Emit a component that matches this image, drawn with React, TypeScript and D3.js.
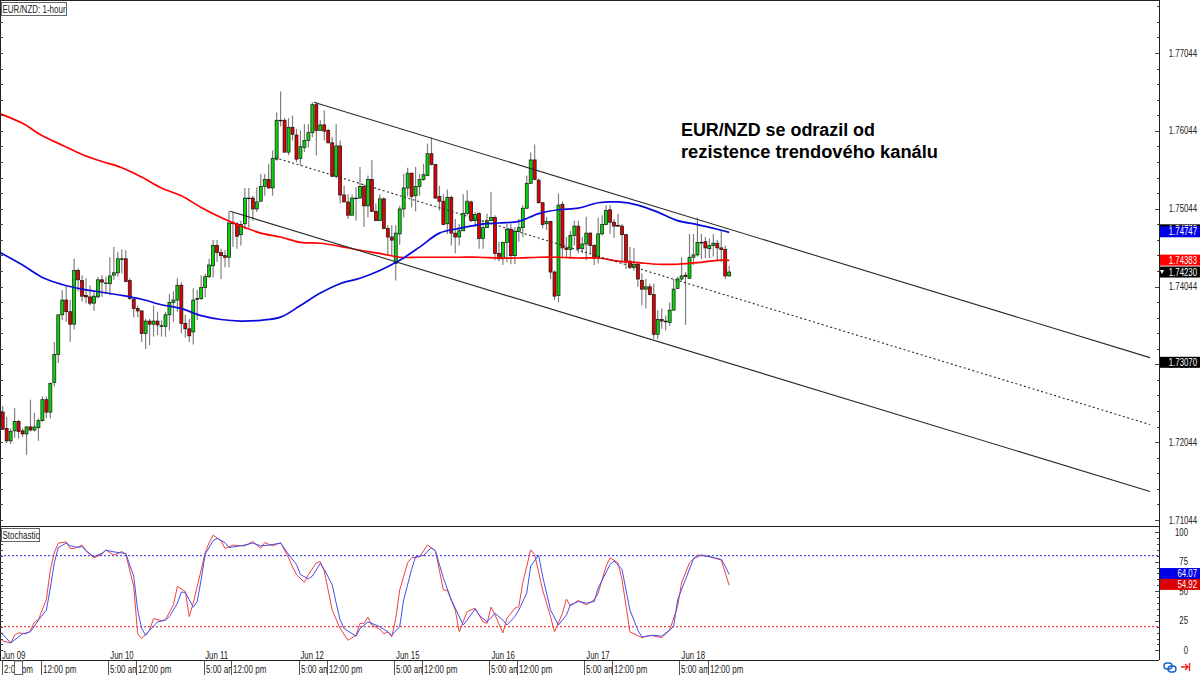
import React, { useEffect, useRef } from "react";
import * as d3 from "d3";

const WIDTH = 1200;
const HEIGHT = 675;

// hourly candles, prices in 1/10000 (17243 = 1.7243)
const opens = [
  17243, 17222, 17206, 17219, 17231, 17219, 17215, 17224, 17220, 17223,
  17232, 17259, 17243, 17281, 17317, 17368, 17387, 17372, 17356, 17425,
  17412, 17393, 17391, 17383, 17391, 17413, 17409, 17408, 17419, 17422,
  17440, 17440, 17412, 17388, 17376, 17373, 17344, 17360, 17356, 17360,
  17354, 17353, 17368, 17384, 17387, 17406, 17357, 17350, 17346, 17388,
  17389, 17403, 17417, 17431, 17457, 17448, 17444, 17442, 17487, 17485,
  17471, 17485, 17518, 17518, 17504, 17514, 17533, 17542, 17531, 17568,
  17618, 17618, 17577, 17609, 17599, 17569, 17583, 17592, 17602, 17638,
  17605, 17612, 17605, 17589, 17546, 17585, 17522, 17513, 17496, 17518,
  17518, 17533, 17508, 17542, 17501, 17489, 17517, 17479, 17468, 17434,
  17472, 17504, 17531, 17550, 17521, 17533, 17542, 17547, 17575, 17561,
  17520, 17514, 17485, 17519, 17473, 17468, 17476, 17498, 17513, 17489,
  17498, 17466, 17480, 17489, 17493, 17447, 17440, 17461, 17478, 17444,
  17475, 17480, 17505, 17537, 17567, 17541, 17512, 17485, 17488, 17423,
  17393, 17510, 17454, 17452, 17470, 17482, 17453, 17459, 17473, 17457,
  17441, 17472, 17484, 17503, 17487, 17483, 17482, 17471, 17437, 17429,
  17433, 17412, 17401, 17404, 17394, 17343, 17362, 17360, 17358, 17374,
  17402, 17414, 17419, 17415, 17442, 17445, 17461, 17462, 17453, 17457,
  17460, 17454, 17452, 17418,
];
const highs = [
  17251, 17237, 17222, 17248, 17233, 17222, 17225, 17259, 17242, 17235,
  17263, 17263, 17281, 17333, 17368, 17400, 17405, 17387, 17440, 17428,
  17419, 17415, 17406, 17400, 17417, 17419, 17417, 17442, 17455, 17449,
  17452, 17451, 17415, 17391, 17380, 17374, 17363, 17363, 17380, 17372,
  17361, 17372, 17395, 17398, 17415, 17410, 17368, 17363, 17402, 17400,
  17419, 17421, 17440, 17464, 17464, 17453, 17451, 17502, 17500, 17487,
  17489, 17531, 17531, 17521, 17532, 17549, 17549, 17562, 17579, 17628,
  17655, 17621, 17621, 17624, 17607, 17605, 17613, 17613, 17641, 17641,
  17618, 17631, 17607, 17596, 17613, 17592, 17534, 17523, 17523, 17532,
  17558, 17536, 17547, 17567, 17511, 17523, 17519, 17483, 17483, 17483,
  17508, 17549, 17557, 17551, 17558, 17549, 17562, 17588, 17596, 17562,
  17534, 17523, 17529, 17521, 17491, 17485, 17523, 17528, 17515, 17500,
  17500, 17489, 17498, 17526, 17496, 17462, 17462, 17485, 17485, 17481,
  17491, 17509, 17547, 17577, 17587, 17543, 17513, 17494, 17489, 17425,
  17524, 17514, 17468, 17476, 17489, 17489, 17468, 17494, 17474, 17459,
  17493, 17496, 17509, 17509, 17491, 17498, 17485, 17472, 17455, 17454,
  17436, 17421, 17414, 17408, 17408, 17374, 17376, 17367, 17384, 17414,
  17417, 17442, 17423, 17472, 17472, 17493, 17472, 17468, 17466, 17472,
  17464, 17477, 17457, 17431,
];
const lows = [
  17220, 17203, 17202, 17210, 17209, 17211, 17188, 17218, 17218, 17206,
  17231, 17235, 17235, 17276, 17306, 17361, 17359, 17333, 17349, 17398,
  17385, 17383, 17380, 17373, 17389, 17391, 17395, 17393, 17413, 17417,
  17421, 17410, 17387, 17365, 17365, 17333, 17324, 17329, 17340, 17342,
  17340, 17340, 17348, 17359, 17372, 17344, 17339, 17333, 17330, 17361,
  17387, 17391, 17415, 17416, 17436, 17414, 17429, 17429, 17455, 17453,
  17457, 17478, 17480, 17489, 17500, 17513, 17521, 17530, 17521, 17566,
  17610, 17577, 17573, 17592, 17564, 17560, 17577, 17583, 17596, 17573,
  17605, 17592, 17588, 17545, 17543, 17511, 17513, 17491, 17496, 17489,
  17517, 17481, 17493, 17500, 17489, 17489, 17478, 17444, 17444, 17412,
  17458, 17493, 17520, 17506, 17501, 17521, 17540, 17546, 17560, 17517,
  17502, 17483, 17472, 17457, 17447, 17457, 17476, 17496, 17487, 17481,
  17453, 17453, 17480, 17490, 17438, 17437, 17432, 17436, 17433, 17433,
  17462, 17468, 17504, 17536, 17541, 17511, 17479, 17477, 17414, 17387,
  17384, 17442, 17442, 17440, 17457, 17447, 17447, 17438, 17447, 17432,
  17434, 17470, 17483, 17472, 17467, 17481, 17434, 17427, 17427, 17425,
  17404, 17380, 17376, 17393, 17337, 17337, 17350, 17348, 17354, 17374,
  17402, 17412, 17355, 17414, 17432, 17443, 17440, 17441, 17441, 17443,
  17437, 17436, 17414, 17417,
];
const closes = [
  17221, 17206, 17218, 17231, 17218, 17215, 17224, 17220, 17224, 17232,
  17259, 17243, 17280, 17317, 17368, 17387, 17372, 17356, 17425, 17413,
  17392, 17391, 17383, 17392, 17413, 17410, 17409, 17418, 17422, 17440,
  17440, 17411, 17389, 17376, 17373, 17344, 17360, 17356, 17360, 17355,
  17354, 17368, 17384, 17387, 17406, 17357, 17350, 17341, 17387, 17389,
  17403, 17417, 17432, 17457, 17448, 17444, 17442, 17486, 17485, 17469,
  17484, 17518, 17518, 17504, 17513, 17533, 17542, 17531, 17569, 17618,
  17618, 17577, 17609, 17600, 17568, 17584, 17592, 17602, 17638, 17605,
  17612, 17604, 17589, 17546, 17585, 17522, 17513, 17496, 17518, 17518,
  17533, 17508, 17542, 17501, 17489, 17517, 17479, 17468, 17464, 17473,
  17504, 17531, 17550, 17520, 17533, 17542, 17548, 17575, 17561, 17518,
  17514, 17484, 17519, 17473, 17468, 17476, 17498, 17514, 17489, 17497,
  17466, 17480, 17489, 17493, 17447, 17440, 17461, 17478, 17444, 17475,
  17480, 17505, 17537, 17567, 17542, 17512, 17484, 17488, 17423, 17392,
  17509, 17454, 17452, 17470, 17482, 17453, 17459, 17473, 17457, 17441,
  17472, 17484, 17502, 17487, 17482, 17482, 17471, 17436, 17429, 17433,
  17414, 17401, 17404, 17394, 17343, 17362, 17360, 17359, 17374, 17401,
  17414, 17418, 17417, 17442, 17445, 17461, 17461, 17454, 17457, 17460,
  17454, 17452, 17418, 17423,
];

// moving averages, read every 5 bars
const maBars = [
  -1, 5, 10, 15, 20, 25, 30, 35, 40, 45, 50, 55, 60, 65, 70, 75, 80, 85, 90,
  95, 100, 105, 110, 115, 120, 125, 130, 135, 140, 145, 150, 155, 160, 165,
  170, 175, 180, 183,
];
const redMa = [
  17627, 17614, 17598, 17586, 17574, 17565, 17557, 17545, 17531, 17521,
  17506, 17493, 17482, 17473, 17468, 17461, 17460, 17456, 17451, 17447,
  17442, 17442, 17442, 17442, 17442, 17441, 17441, 17442, 17442, 17441,
  17441, 17437, 17435, 17433, 17433, 17435, 17438, 17438,
];
const blueMa = [
  17449, 17432, 17416, 17407, 17401, 17397, 17393, 17388, 17381, 17376,
  17367, 17362, 17360, 17361, 17365, 17380, 17396, 17408, 17415, 17425,
  17438, 17455, 17473, 17479, 17484, 17486, 17488, 17498, 17503, 17505,
  17512, 17513, 17509, 17500, 17489, 17484, 17478, 17474,
];

// channel lines: start bar, end bar, start price, end price
const channelBars = [
  [78.4, 289],
  [68.6, 289],
  [57.3, 289],
];
const channelPrices = [
  [17641, 17313],
  [17570, 17227],
  [17501, 17141],
];

// stochastic %K
const kBars = [
  -1, 0, 2, 3, 4, 6, 7, 8, 9, 11, 12, 13, 14, 16, 17, 18, 20, 21, 23, 25, 26,
  28, 30, 31, 33, 34, 35, 37, 38, 40, 41, 43, 44, 46, 47, 48, 50, 51, 52, 53,
  55, 56, 58, 61, 63, 64, 65, 66, 68, 70, 72, 73, 74, 76, 77, 79, 80, 81, 83,
  85, 87, 89, 90, 91, 92, 93, 95, 96, 97, 98, 99, 100, 102, 103, 105, 106,
  107, 109, 111, 112, 114, 115, 117, 119, 121, 122, 123, 124, 126, 127, 129,
  130, 131, 133, 134, 136, 138, 139, 141, 142, 143, 145, 147, 149, 150, 152,
  153, 155, 156, 158, 161, 163, 166, 168, 170, 171, 173, 175, 178, 181, 183,
];
const kValues = [
  11.4, 8, 6.3, 12.8, 14.8, 14, 17, 24, 26, 43, 68, 82.6, 90.6, 91.7, 86, 86,
  88.9, 84, 78.3, 81, 84.9, 80.3, 83.5, 81.2, 54, 14, 10, 17, 27, 25, 26,
  38.5, 54, 49.8, 28.5, 40, 68, 82.6, 91, 97.4, 92.6, 86, 88.9, 88.3, 92,
  88.9, 86.3, 91, 88.3, 91, 78.3, 70.6, 64, 57.5, 64, 74, 74.9, 67, 34, 18.5,
  8.5, 12.8, 22.8, 22.8, 28, 21.4, 18, 14, 15.7, 11.4, 27, 51, 74, 78.3, 79,
  84, 89, 84, 51, 50.7, 34, 15.7, 32.8, 35.6, 24, 22.8, 36.5, 30, 14.8, 27,
  35.6, 37, 57, 84.9, 81, 51, 28.5, 15.7, 31.3, 43.3, 37.6, 42.2, 38.5, 42.7,
  48.4, 71.2, 78.3, 74, 59.8, 15.7, 10.8, 12.8, 10.8, 17, 37, 57, 74, 80.6,
  79.2, 76.3, 54.92,
];

// stochastic %D
const dBars = [
  -1, 1, 2, 4, 5, 7, 9, 11, 12, 13, 14, 16, 17, 19, 20, 21, 23, 25, 26, 28,
  31, 33, 34, 35, 36, 37, 39, 41, 42, 44, 45, 46, 48, 49, 50, 51, 53, 54, 56,
  57, 60, 63, 65, 67, 70, 72, 74, 75, 77, 78, 80, 81, 83, 84, 85, 86, 89, 90,
  92, 93, 95, 97, 98, 100, 101, 103, 104, 106, 108, 109, 111, 113, 116, 117,
  119, 120, 122, 124, 126, 127, 129, 130, 132, 133, 135, 136, 138, 140, 142,
  143, 145, 147, 149, 150, 153, 154, 156, 158, 160, 161, 164, 166, 169, 170,
  172, 174, 176, 181, 182, 183,
];
const dValues = [
  17, 10, 6.3, 11.4, 14, 15.7, 25.6, 34, 52.7, 74, 86.9, 90.6, 88.3, 86.9,
  87.7, 84, 79.2, 82, 84.6, 83.2, 81.8, 62.7, 34, 18.5, 12.8, 17, 24, 25.6,
  28.5, 39.9, 49.3, 49, 36.5, 41.3, 59.8, 81.2, 92.6, 94.6, 91, 86.9, 88.3,
  90.6, 88.3, 88.9, 90.6, 81.2, 72.6, 64, 60.4, 62.7, 73.5, 68.4, 55.5, 39.9,
  25.6, 18.5, 12, 18.5, 24, 22.8, 20, 15.7, 12.8, 20, 42.7, 68.4, 79, 80.3,
  86.9, 84, 61.2, 42.7, 21.4, 25.6, 35, 29.9, 24, 31.3, 25.6, 21.4, 28.5, 34,
  48.4, 71.2, 80.3, 62.7, 34, 21.4, 29.9, 38.5, 41.3, 39.9, 41.3, 52.7, 72.6,
  75.5, 68.4, 34, 17, 11.4, 12.8, 12, 20, 42.7, 59.8, 77.5, 80.6, 76.9, 71.2,
  64.07,
];

const priceLabels = [1.77044, 1.76044, 1.75044, 1.74044, 1.73044, 1.72044, 1.71044];
const stochLabels = [100, 75, 50, 25, 0];
const stochLevels = [80, 20];

const dayLabels = ["Jun 09", "Jun 10", "Jun 11", "Jun 12", "Jun 15", "Jun 16", "Jun 17", "Jun 18"];
const dayBars = [-0.2, 27.1, 51, 75, 99.1, 123.1, 147, 171];
const timeBars = [-0.2, 9.6, 26.6, 33.6, 50.6, 57.6, 74.6, 81.6, 98.6, 105.6, 122.6, 129.6, 146.5, 153.6, 170.4, 177.6];
const timeLabels = ["2:00 pm", "12:00 pm", "5:00 am", "12:00 pm", "5:00 am", "12:00 pm", "5:00 am", "12:00 pm", "5:00 am", "12:00 pm", "5:00 am", "12:00 pm", "5:00 am", "12:00 pm", "5:00 am", "12:00 pm"];

const UP = "#0cd40c";
const DOWN = "#e40000";
const INK = "#222";
const LABEL_FONT = "'Liberation Sans', sans-serif";

// the chart's labels are a narrow face; squeeze ours to the same width
const squeeze = (group: any, ratio = 0.78) => {
  group.selectAll("text").each(function (this: SVGTextElement) {
    const w = this.getComputedTextLength();
    d3.select(this).attr("textLength", w * ratio).attr("lengthAdjust", "spacingAndGlyphs");
  });
};

const App = () => {
  const ref = useRef<SVGSVGElement>(null);

  useEffect(() => {
    const svg = d3.select(ref.current);
    svg.selectAll("*").remove();

    const x = d3.scaleLinear().domain([0, 183]).range([2.7, 729.2]);
    const y = d3.scaleLinear().domain([1.77044, 1.71044]).range([53, 520]);
    const yPip = (v: number) => y(v / 10000);
    const yStoch = d3.scaleLinear().domain([0, 100]).range([650.4, 532]);

    const paneRight = 1159;
    const mainBottom = 526;
    const stochBottom = 660;

    const chart = svg.append("g");
    svg.append("defs").append("clipPath").attr("id", "main-clip")
      .append("rect").attr("width", paneRight).attr("height", mainBottom);
    svg.select("defs").append("clipPath").attr("id", "stoch-clip")
      .append("rect").attr("y", mainBottom).attr("width", paneRight).attr("height", stochBottom - mainBottom);

    const main = chart.append("g").attr("clip-path", "url(#main-clip)");

    const maLine = d3.line<number>()
      .x((_, i) => x(maBars[i]))
      .y((d) => yPip(d))
      .curve(d3.curveCatmullRom.alpha(0.5));

    // candles
    const candles = main.selectAll("g.candle").data(opens).join("g").attr("class", "candle");
    candles.append("line")
      .attr("x1", (_, i) => x(i)).attr("x2", (_, i) => x(i))
      .attr("y1", (_, i) => yPip(highs[i])).attr("y2", (_, i) => yPip(lows[i]))
      .attr("stroke", "#808080").attr("stroke-width", 1.2);
    candles.append("rect")
      .attr("x", (_, i) => x(i) - 1.5)
      .attr("width", 3)
      .attr("y", (d, i) => Math.min(yPip(d), yPip(closes[i])))
      .attr("height", (d, i) => Math.max(0.6, Math.abs(yPip(d) - yPip(closes[i]))))
      .attr("fill", (d, i) => (closes[i] >= d ? UP : DOWN))
      .attr("stroke", "#111").attr("stroke-width", 0.7);

    main.append("path").attr("d", maLine(redMa)).attr("fill", "none")
      .attr("stroke", "#ff0000").attr("stroke-width", 1.7);
    main.append("path").attr("d", maLine(blueMa)).attr("fill", "none")
      .attr("stroke", "#0a0adc").attr("stroke-width", 1.7);

    // channel
    channelBars.forEach((bars, i) => {
      main.append("line")
        .attr("x1", x(bars[0])).attr("x2", x(bars[1]))
        .attr("y1", yPip(channelPrices[i][0])).attr("y2", yPip(channelPrices[i][1]))
        .attr("stroke", "#2a2a2a").attr("stroke-width", 1.1)
        .attr("stroke-dasharray", i === 1 ? "2,2.5" : null);
    });

    // annotation
    const note = svg.append("g")
      .attr("font-family", "'Liberation Sans', sans-serif")
      .attr("font-weight", 700).attr("font-size", 18).attr("fill", "#000");
    note.append("text").attr("x", 681).attr("y", 136)
      .attr("textLength", 194).attr("lengthAdjust", "spacingAndGlyphs").text("EUR/NZD se odrazil od");
    note.append("text").attr("x", 681).attr("y", 158)
      .attr("textLength", 257).attr("lengthAdjust", "spacingAndGlyphs").text("rezistence trendového kanálu");

    // stochastic pane
    const stoch = chart.append("g").attr("clip-path", "url(#stoch-clip)");
    stochLevels.forEach((lvl, i) => {
      stoch.append("line")
        .attr("x1", 0).attr("x2", paneRight)
        .attr("y1", yStoch(lvl)).attr("y2", yStoch(lvl))
        .attr("stroke", i === 0 ? "#2020e0" : "#e81010")
        .attr("stroke-width", 1).attr("stroke-dasharray", "2,2");
    });
    const kLine = d3.line<number>().x((_, i) => x(kBars[i])).y((d) => yStoch(d));
    const dLine = d3.line<number>().x((_, i) => x(dBars[i])).y((d) => yStoch(d));
    stoch.append("path").attr("d", kLine(kValues)).attr("fill", "none")
      .attr("stroke", "#f04040").attr("stroke-width", 1);
    stoch.append("path").attr("d", dLine(dValues)).attr("fill", "none")
      .attr("stroke", "#4050f0").attr("stroke-width", 1);

    // pane frames
    const frame = svg.append("g").attr("stroke", INK).attr("stroke-width", 1);
    frame.append("line").attr("x1", 0).attr("x2", paneRight).attr("y1", 0.5).attr("y2", 0.5);
    frame.append("line").attr("x1", 0).attr("x2", paneRight).attr("y1", mainBottom + 0.5).attr("y2", mainBottom + 0.5);
    frame.append("line").attr("x1", 0).attr("x2", paneRight).attr("y1", stochBottom + 0.5).attr("y2", stochBottom + 0.5);
    frame.append("line").attr("x1", paneRight + 0.5).attr("x2", paneRight + 0.5).attr("y1", 0).attr("y2", stochBottom);
    frame.append("line").attr("x1", 0.5).attr("x2", 0.5).attr("y1", 0).attr("y2", stochBottom);

    // axis ticks
    const priceTicks = d3.range(0, 34).map((k) => 1.71044 + k * 0.002);
    const stochTicks = d3.range(0, 101, 5);
    const tickRows = [
      ...priceTicks.map((v, k) => ({ pos: y(v), major: k % 5 === 0 })),
      ...stochTicks.map((v) => ({ pos: yStoch(v), major: v % 25 === 0 })),
    ];
    const ticks = svg.append("g").attr("stroke", "#444").attr("stroke-width", 1);
    tickRows.forEach((t) => {
      const py = Math.round(t.pos) + 0.5;
      ticks.append("line").attr("x1", paneRight - (t.major ? 4 : 2)).attr("x2", paneRight).attr("y1", py).attr("y2", py);
      ticks.append("line").attr("x1", 0).attr("x2", 3).attr("y1", py).attr("y2", py);
    });

    const labelStyle = (s: any) =>
      s.attr("font-family", LABEL_FONT).attr("font-size", 10).attr("fill", "#222");

    const axisText = svg.append("g").call(labelStyle);
    priceLabels.forEach((v) => {
      axisText.append("text").attr("x", 1197).attr("y", y(v) + 3.5)
        .attr("text-anchor", "end").text(v.toFixed(5));
    });
    stochLabels.forEach((v) => {
      axisText.append("text").attr("x", 1188).attr("y", yStoch(v) + 3.5)
        .attr("text-anchor", "end").text(v);
    });
    squeeze(axisText);

    // value tags on the right axis
    const priceTags = [
      { pos: y(1.74772), text: "1.74772", fill: "#000" },
      { pos: y(1.74747), text: "1.74747", fill: "#0000e6" },
      { pos: y(1.74383), text: "1.74383", fill: "#ff0000" },
      { pos: y(1.7423), text: "1.74230", fill: "#000" },
      { pos: y(1.7307), text: "1.73070", fill: "#000" },
    ];
    const stochTags = [
      { pos: yStoch(64.07) - 1, text: "64.07", fill: "#0000e6" },
      { pos: yStoch(54.92) - 1, text: "54.92", fill: "#d80000" },
    ];
    const tags = svg.append("g").call(labelStyle);
    [...priceTags, ...stochTags].forEach((t) => {
      tags.append("rect").attr("x", paneRight + 1).attr("y", t.pos - 5.5).attr("width", 41).attr("height", 11).attr("fill", t.fill);
      tags.append("text").attr("x", 1197).attr("y", t.pos + 3.5).attr("text-anchor", "end").attr("fill", "#fff").text(t.text);
    });
    squeeze(tags);
    // last price marker
    tags.append("path").attr("d", `M1160,${y(1.7423) - 2}h4l-2,4z`).attr("fill", "#fff");

    // day labels inside the stochastic pane
    const days = svg.append("g").call(labelStyle);
    dayLabels.forEach((d, i) => {
      days.append("text").attr("x", x(dayBars[i])).attr("y", 658.5).text(d);
    });
    squeeze(days);

    // time axis: each tick paints over the text of the one before it
    const times = svg.append("g").call(labelStyle);
    timeBars.forEach((b, i) => {
      const px = Math.round(x(b)) + 0.5;
      times.append("rect").attr("x", px).attr("y", 661).attr("width", 40).attr("height", 14).attr("fill", "#fff");
      times.append("line").attr("x1", px).attr("x2", px).attr("y1", 661).attr("y2", 675).attr("stroke", "#555");
      const label = times.append("text").attr("x", px + 1.5).attr("y", 673).text(timeLabels[i]);
      const w = (label.node() as SVGTextElement).getComputedTextLength();
      label.attr("textLength", w * 0.8).attr("lengthAdjust", "spacingAndGlyphs");
    });
    // little marker box sitting over the first time label
    times.append("rect").attr("x", 14.5).attr("y", 661).attr("width", 8).attr("height", 13.5)
      .attr("fill", "#fff").attr("stroke", "#666");

    // title boxes
    const boxes = [
      { x: 1, y: 2, w: 65, h: 13, text: "EUR/NZD: 1-hour" },
      { x: 1, y: 528, w: 38, h: 13, text: "Stochastic" },
    ];
    const legends = svg.append("g").call(labelStyle);
    boxes.forEach((b) => {
      legends.append("rect").attr("x", b.x + 1).attr("y", b.y + 1).attr("width", b.w).attr("height", b.h).attr("fill", "#999");
      legends.append("rect").attr("x", b.x + 0.5).attr("y", b.y + 0.5).attr("width", b.w).attr("height", b.h)
        .attr("fill", "#fff").attr("stroke", "#666");
      legends.append("text").attr("x", b.x + 1.5).attr("y", b.y + 10.5).text(b.text);
    });
    squeeze(legends, 0.8);

    // corner icons
    const icons = svg.append("g").attr("fill", "none").attr("stroke-width", 1.4);
    icons.append("rect").attr("x", 1164).attr("y", 663).attr("width", 8).attr("height", 6).attr("rx", 3).attr("stroke", "#1a5fd0");
    icons.append("rect").attr("x", 1168).attr("y", 666).attr("width", 8).attr("height", 6).attr("rx", 3).attr("stroke", "#1a5fd0");
    icons.append("path").attr("d", "M1181,667h7M1185,664l3,3l-3,3M1189.5,663v8").attr("stroke", "#f02020");
  }, []);

  return (
    <svg
      ref={ref}
      width={WIDTH}
      height={HEIGHT}
      viewBox={`0 0 ${WIDTH} ${HEIGHT}`}
      style={{ position: "absolute", left: 0, top: 0, background: "#fff" }}
    />
  );
};

export default App;
